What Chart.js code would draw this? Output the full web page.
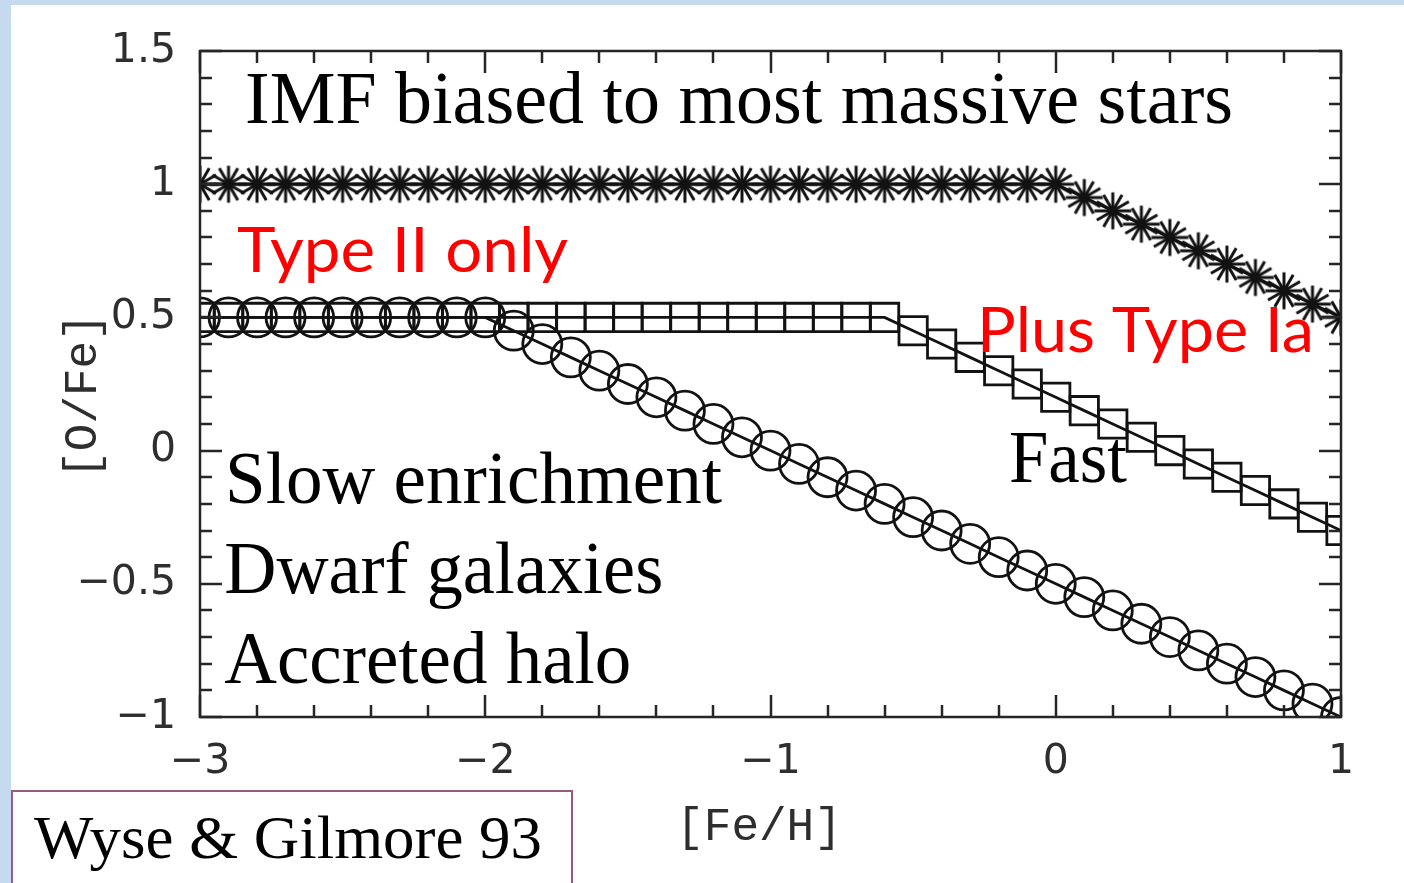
<!DOCTYPE html>
<html>
<head>
<meta charset="utf-8">
<title>[O/Fe] vs [Fe/H]</title>
<script src="https://cdn.jsdelivr.net/npm/chart.js@4.4.1/dist/chart.umd.min.js"></script>
<style>
  html, body { margin: 0; padding: 0; background: #ffffff; overflow: hidden; }
  #wrap { position: relative; width: 1404px; height: 883px; }
</style>
</head>
<body>
<div id="wrap"><canvas id="chart"></canvas></div>
<script>
// Metallicity grid of the model tracks, one marker every 0.1 dex
const feH = [
  -3.0, -2.9, -2.8, -2.7, -2.6, -2.5, -2.4, -2.3, -2.2, -2.1,
  -2.0, -1.9, -1.8, -1.7, -1.6, -1.5, -1.4, -1.3, -1.2, -1.1,
  -1.0, -0.9, -0.8, -0.7, -0.6, -0.5, -0.4, -0.3, -0.2, -0.1,
   0.0,  0.1,  0.2,  0.3,  0.4,  0.5,  0.6,  0.7,  0.8,  0.9,
   1.0
];

// IMF biased to the most massive stars (asterisks)
const oFeMassiveIMF = [
  1, 1, 1, 1, 1, 1, 1, 1, 1, 1,
  1, 1, 1, 1, 1, 1, 1, 1, 1, 1,
  1, 1, 1, 1, 1, 1, 1, 1, 1, 1,
  1, 0.95, 0.9, 0.85, 0.8, 0.75, 0.7, 0.65, 0.6, 0.55,
  0.5
];

// Fast enrichment (squares)
const oFeFast = [
  0.5, 0.5, 0.5, 0.5, 0.5, 0.5, 0.5, 0.5, 0.5, 0.5,
  0.5, 0.5, 0.5, 0.5, 0.5, 0.5, 0.5, 0.5, 0.5, 0.5,
  0.5, 0.5, 0.5, 0.5, 0.5, 0.45, 0.4, 0.35, 0.3, 0.25,
  0.2, 0.15, 0.1, 0.05, 0, -0.05, -0.1, -0.15, -0.2, -0.25,
  -0.3
];

// Slow enrichment: dwarf galaxies / accreted halo (circles)
const oFeSlow = [
  0.5, 0.5, 0.5, 0.5, 0.5, 0.5, 0.5, 0.5, 0.5, 0.5,
  0.5, 0.45, 0.4, 0.35, 0.3, 0.25, 0.2, 0.15, 0.1, 0.05,
  0, -0.05, -0.1, -0.15, -0.2, -0.25, -0.3, -0.35, -0.4, -0.45,
  -0.5, -0.55, -0.6, -0.65, -0.7, -0.75, -0.8, -0.85, -0.9, -0.95,
  -1.0
];

const xTickValues = [-3, -2, -1, 0, 1];
const xTickLabels = ['\u22123', '\u22122', '\u22121', '0', '1'];
const yTickValues = [-1, -0.5, 0, 0.5, 1, 1.5];
const yTickLabels = ['\u22121', '\u22120.5', '0', '0.5', '1', '1.5'];

const xTitle = '[Fe/H]';
const yTitle = '[O/Fe]';

// Text placed inside the plot (anchored in data units, left/baseline)
const notes = [
  { text: 'IMF biased to most massive stars', x: -2.842, y: 1.230, width: 988, font: '73px "Liberation Serif"', color: '#000000' },
  { text: 'Type II only', x: -2.870, y: 0.670, width: 331, font: '62px Lato', color: '#ff0000' },
  { text: 'Plus Type Ia', x: -0.276, y: 0.370, width: 337, font: '62px Lato', color: '#ff0000' },
  { text: 'Fast', x: -0.164, y: -0.118, width: 118, font: '73px "Liberation Serif"', color: '#000000' },
  { text: 'Slow enrichment', x: -2.912, y: -0.197, width: 497, font: '73px "Liberation Serif"', color: '#000000' },
  { text: 'Dwarf galaxies', x: -2.915, y: -0.535, width: 439, font: '73px "Liberation Serif"', color: '#000000' },
  { text: 'Accreted halo', x: -2.915, y: -0.872, width: 407, font: '73px "Liberation Serif"', color: '#000000' }
];

const citation = 'Wyse & Gilmore 93';

const INK = '#121212';
const AXIS_INK = '#262626';

// 12-ray asterisk marker
function makeAsterisk(r, lw) {
  const s = Math.ceil(2 * r + lw + 2);
  const c = document.createElement('canvas');
  c.width = s; c.height = s;
  const g = c.getContext('2d');
  g.translate(s / 2, s / 2);
  g.strokeStyle = INK;
  g.lineWidth = lw;
  for (let k = 0; k < 6; k++) {
    const a = k * Math.PI / 6;
    g.beginPath();
    g.moveTo(-r * Math.cos(a), -r * Math.sin(a));
    g.lineTo(r * Math.cos(a), r * Math.sin(a));
    g.stroke();
  }
  g.beginPath();
  g.arc(0, 0, lw * 1.5, 0, Math.PI * 2);
  g.fillStyle = INK;
  g.fill();
  return c;
}

function toPoints(ys) {
  return feH.map((x, i) => ({ x: x, y: ys[i] }));
}

function drawFitted(ctx, text, x, y, width, font, color) {
  ctx.save();
  ctx.font = font;
  ctx.fillStyle = color;
  ctx.textAlign = 'left';
  ctx.textBaseline = 'alphabetic';
  const w = ctx.measureText(text).width;
  ctx.translate(x, y);
  ctx.scale(width / w, 1);
  ctx.fillText(text, 0, 0);
  ctx.restore();
}

// Light blue page border strips
const pageBackground = {
  id: 'pageBackground',
  beforeDraw(chart) {
    const ctx = chart.ctx;
    ctx.save();
    ctx.fillStyle = '#ffffff';
    ctx.fillRect(0, 0, chart.width, chart.height);
    ctx.fillStyle = '#c6daef';
    ctx.fillRect(0, 0, chart.width, 5);
    ctx.fillRect(0, 0, 11, chart.height);
    ctx.restore();
  }
};

// Plot frame with inward major/minor ticks on all four sides
const frameTicks = {
  id: 'frameTicks',
  afterDatasetsDraw(chart) {
    const { ctx, chartArea: a, scales } = chart;
    const xs = scales.x, ys = scales.y;
    ctx.save();
    ctx.strokeStyle = AXIS_INK;
    ctx.lineWidth = 2.5;
    ctx.beginPath();
    for (let k = 0; k <= 20; k++) {
      const px = Math.round(xs.getPixelForValue(xs.min + k * 0.2));
      const len = k % 5 === 0 ? 22 : 12;
      ctx.moveTo(px, a.bottom); ctx.lineTo(px, a.bottom - len);
      ctx.moveTo(px, a.top); ctx.lineTo(px, a.top + len);
    }
    for (let k = 0; k <= 25; k++) {
      const py = Math.round(ys.getPixelForValue(ys.min + k * 0.1));
      const len = k % 5 === 0 ? 22 : 12;
      ctx.moveTo(a.left, py); ctx.lineTo(a.left + len, py);
      ctx.moveTo(a.right, py); ctx.lineTo(a.right - len, py);
    }
    ctx.stroke();
    ctx.strokeRect(a.left, a.top, a.right - a.left, a.bottom - a.top);
    ctx.restore();
  }
};

// Labels inside the plot, axis titles and the citation box
const annotations = {
  id: 'annotations',
  afterDraw(chart) {
    const { ctx, scales } = chart;
    notes.forEach(n => {
      drawFitted(ctx, n.text, scales.x.getPixelForValue(n.x), scales.y.getPixelForValue(n.y), n.width, n.font, n.color);
    });

    ctx.save();
    ctx.fillStyle = '#2e2e2e';
    ctx.font = '46px "Liberation Mono"';
    ctx.textAlign = 'center';
    ctx.textBaseline = 'alphabetic';
    ctx.fillText(xTitle, 759, 840);
    ctx.translate(84, 396);
    ctx.rotate(-Math.PI / 2);
    ctx.textBaseline = 'middle';
    ctx.fillText(yTitle, 0, 0);
    ctx.restore();

    ctx.save();
    ctx.fillStyle = '#ffffff';
    ctx.fillRect(12, 791, 560, 100);
    ctx.strokeStyle = '#9c5a7b';
    ctx.lineWidth = 2;
    ctx.strokeRect(12, 791, 560, 100);
    ctx.restore();
    drawFitted(ctx, citation, 34, 858, 508, '62px "Liberation Serif"', '#000000');
  }
};

const lineBase = {
  borderColor: INK,
  borderWidth: 2.8,
  tension: 0,
  fill: false,
  clip: 0,
  pointBackgroundColor: 'rgba(0,0,0,0)',
  pointBorderColor: INK,
  pointBorderWidth: 2.8,
  pointHoverRadius: 0
};

new Chart(document.getElementById('chart'), {
  type: 'line',
  data: {
    datasets: [
      Object.assign({}, lineBase, { label: 'Slow', data: toPoints(oFeSlow), pointStyle: 'circle', pointRadius: 19.5 }),
      Object.assign({}, lineBase, { label: 'Fast', data: toPoints(oFeFast), pointStyle: 'rect', pointRadius: 20 }),
      Object.assign({}, lineBase, { label: 'Massive IMF', data: toPoints(oFeMassiveIMF), pointStyle: makeAsterisk(18.5, 3), pointRadius: 18 })
    ]
  },
  options: {
    responsive: true,
    maintainAspectRatio: false,
    devicePixelRatio: 1,
    animation: false,
    events: [],
    layout: { padding: { left: 0, top: 51, right: 63, bottom: 0 } },
    plugins: { legend: { display: false }, tooltip: { enabled: false } },
    scales: {
      x: {
        type: 'linear',
        position: 'bottom',
        min: -3,
        max: 1,
        grid: { display: false, drawTicks: false },
        border: { display: false },
        afterBuildTicks: s => { s.ticks = xTickValues.map(v => ({ value: v })); },
        afterFit: s => { s.height = 166; },
        ticks: {
          autoSkip: false,
          maxRotation: 0,
          padding: 21,
          color: '#2e2e2e',
          font: { family: '"DejaVu Sans"', size: 41 },
          callback: v => { const i = xTickValues.indexOf(v); return i >= 0 ? xTickLabels[i] : ''; }
        }
      },
      y: {
        type: 'linear',
        position: 'left',
        min: -1,
        max: 1.5,
        grid: { display: false, drawTicks: false },
        border: { display: false },
        afterBuildTicks: s => { s.ticks = yTickValues.map(v => ({ value: v })); },
        afterFit: s => { s.width = 200; },
        ticks: {
          autoSkip: false,
          padding: 24,
          color: '#2e2e2e',
          font: { family: '"DejaVu Sans"', size: 41 },
          callback: v => { const i = yTickValues.indexOf(v); return i >= 0 ? yTickLabels[i] : ''; }
        }
      }
    }
  },
  plugins: [pageBackground, frameTicks, annotations]
});
</script>
</body>
</html>
